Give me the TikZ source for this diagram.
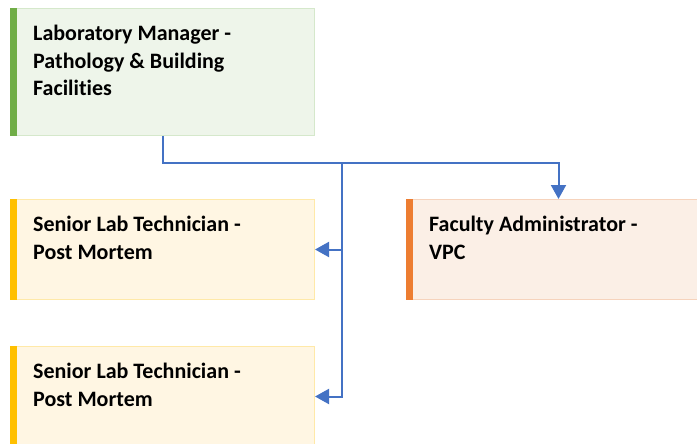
\documentclass[tikz,border=0pt]{standalone}
\usepackage{fontspec}
\setmainfont[Ligatures={NoCommon}]{Carlito}
\usetikzlibrary{arrows.meta,calc}
\definecolor{greenbar}{HTML}{70AD47}
\definecolor{greenfill}{HTML}{EEF5EA}
\definecolor{greenline}{HTML}{D5E8CB}
\definecolor{yellowbar}{HTML}{FFC000}
\definecolor{yellowfill}{HTML}{FFF6E3}
\definecolor{yellowline}{HTML}{FFE9A8}
\definecolor{orangebar}{HTML}{ED7D31}
\definecolor{orangefill}{HTML}{FBEFE6}
\definecolor{orangeline}{HTML}{F6D3BC}
\definecolor{link}{HTML}{4472C4}
\begin{document}
\begin{tikzpicture}[x=1pt,y=-1pt,
  card/.style={draw=#1line, fill=#1fill, line width=1pt, minimum width=304pt,
    anchor=north west, inner sep=0pt},
  cardtext/.style={anchor=north west, inner sep=0pt, align=left,
    font=\fontsize{22}{27.5}\selectfont\bfseries},
  conn/.style={draw=link, line width=2pt},
  tip/.style={-{Triangle[length=14pt,width=15pt]}}]
\useasboundingbox (0,0) rectangle (697,444);
\clip (0,0) rectangle (697,444);

% boxes
\node[card=green, minimum height=127pt] (lm) at (10,8) {};
\node[card=yellow, minimum height=100pt] (st1) at (10,199) {};
\node[card=yellow, minimum height=100pt] (st2) at (10,346) {};
\node[card=orange, minimum height=100pt] (fa) at (406,199) {};

% coloured edge bars
\fill[greenbar] (lm.north west) rectangle ($(lm.south west)+(7,0)$);
\fill[yellowbar] (st1.north west) rectangle ($(st1.south west)+(7,0)$);
\fill[yellowbar] (st2.north west) rectangle ($(st2.south west)+(7,0)$);
\fill[orangebar] (fa.north west) rectangle ($(fa.south west)+(7,0)$);

% labels
\node[cardtext] (lmt) at ($(lm.north west)+(23,17)$) {Laboratory Manager -\\Pathology \& Building\\Facilities};
\node[cardtext] (st1t) at ($(st1.north west)+(23,17)$) {Senior Lab Technician -\\Post Mortem};
\node[cardtext] (st2t) at ($(st2.north west)+(23,17)$) {Senior Lab Technician -\\Post Mortem};
\node[cardtext] (fat) at ($(fa.north west)+(23,17)$) {Faculty Administrator -\\VPC};

% connectors
\coordinate (bus) at ($(lm.south)+(0,27)$);
\coordinate (trunk) at (342,0);
\draw[conn, tip] (lm.south) -- (bus) -- (bus -| fa.north) -- (fa.north);
\draw[conn, tip] (bus -| trunk) -- (trunk |- st2.west) -- (st2.east);
\draw[conn, tip] (trunk |- st1.east) -- (st1.east);
\end{tikzpicture}
\end{document}
